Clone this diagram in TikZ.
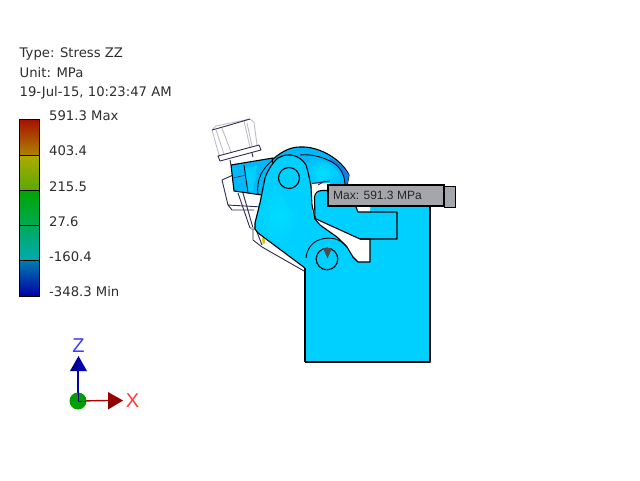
\documentclass[tikz,border=0pt]{standalone}
\usepackage{fontspec}
\setmainfont{DejaVu Sans}
\newfontfamily\labfont{Liberation Sans}
\definecolor{cy}{RGB}{0,208,255}
\definecolor{cyb}{RGB}{0,226,255}
\definecolor{capb}{RGB}{20,125,235}
\definecolor{capc}{RGB}{0,185,252}
\definecolor{tabb}{RGB}{0,185,250}
\definecolor{wire}{RGB}{50,45,80}
\definecolor{gw}{RGB}{190,190,200}
\definecolor{lab}{RGB}{165,165,172}
\definecolor{txt}{RGB}{45,45,45}
\tikzset{
 lbl/.style={inner sep=0pt,anchor=base west,font=\fontsize{13.2}{15}\selectfont,text=txt},
 outl/.style={draw=black,line width=1.1pt,line join=round},
 wr/.style={draw=wire,line width=0.9pt,line join=round},
 gr/.style={draw=gw,line width=0.9pt,line join=round},
 tick/.style={draw=black,line width=0.7pt}
}
\begin{document}
\begin{tikzpicture}[x=1pt,y=-1pt]
\useasboundingbox (0,0) rectangle (640,480);
\fill[white] (0,0) rectangle (640,480);
% header
\node[lbl] (t1) at (19.5,57) {Type: Stress ZZ};
\node[lbl] (t2) at (19.5,77) {Unit: MPa};
\node[lbl] (t3) at (19.5,96) {19-Jul-15, 10:23:47 AM};
% colour bar
\shade[top color={rgb,255:red,165;green,15;blue,0},bottom color={rgb,255:red,175;green,130;blue,0}] (19,119) rectangle (39,155);
\shade[top color={rgb,255:red,175;green,170;blue,0},bottom color={rgb,255:red,90;green,170;blue,0}] (19,155) rectangle (39,190);
\shade[top color={rgb,255:red,0;green,165;blue,0},bottom color={rgb,255:red,0;green,170;blue,80}] (19,190) rectangle (39,225);
\shade[top color={rgb,255:red,0;green,170;blue,90},bottom color={rgb,255:red,0;green,170;blue,175}] (19,225) rectangle (39,260.5);
\shade[top color={rgb,255:red,0;green,125;blue,175},bottom color={rgb,255:red,0;green,0;blue,165}] (19,260.5) rectangle (39,296);
\draw[tick] (19,119) rectangle (39,296);
\foreach \y in {155,190,225,260.5} \draw[tick] (19,\y) -- (39,\y);
\node[lbl] (v1) at (49,120) {591.3 Max};
\node[lbl] (v2) at (49,155.5) {403.4};
\node[lbl] (v3) at (49,191) {215.5};
\node[lbl] (v4) at (49,226) {27.6};
\node[lbl] (v5) at (49,261) {-160.4};
\node[lbl] (v6) at (49,296) {-348.3 Min};
% bolt
\draw[gr] (212,130) -- (216,126) (216,126) -- (250,119) -- (254,122) -- (257,145);
\draw[gr] (212,130) -- (219,155);
\draw[gr] (216,130) -- (224,154) (222,128) -- (231,152) (244,121) -- (250,147) (247,123) -- (252,146);
\draw[wr] (212,130) -- (228,125.5) -- (250,119);
\draw[wr] (218,156) -- (259,145) -- (261,150) -- (220,161) -- cycle;
\draw[wr] (230,160) -- (231,165) (252,153) -- (253,157);
% wire frame behind
\draw[wr] (233,175) -- (222,180) -- (228,205) -- (262,207);
\draw[wr] (228,205) -- (232,210) -- (254,210);
\draw[wr] (238,193) -- (250,228) -- (256,228);
\draw[wr] (243,193) -- (253,228);
\fill[gw] (251,227) rectangle (256,230);
% tab
\path[fill=tabb,outl] (231,165) -- (273,158) -- (275,190) -- (262,195) -- (234,191) -- cycle;
\fill[cy] (245,168) -- (257,166) -- (253,191) -- (249,191) -- cycle;
\draw[outl,line width=0.8pt] (244,165) -- (248,193);
\draw[outl,line width=0.8pt] (258,195) .. controls (256,180) and (262,167) .. (276,158);
\draw[wire!60!red,line width=0.7pt] (233,178) -- (246,175);
% cap
\path[fill=capc,outl]
 (272,160) .. controls (283,150) and (292,147) .. (300,147)
 .. controls (320,146) and (342,160) .. (349,175) -- (347,186) -- (315,200) -- (280,180) -- cycle;
\fill[capb] (330,158) .. controls (340,163) and (346,170) .. (349,175) -- (347,186) -- (345,184) .. controls (345,173) and (338,165) .. (330,161) -- cycle;
\shade[inner color=cyb,outer color=capc] (300,156) .. controls (315,155) and (340,165) .. (345,184) -- (330,190) -- (305,190) -- cycle;
\draw[outl,line width=0.9pt] (300,155) .. controls (310,154) and (320,156) .. (330,161) .. controls (338,165) and (344,171) .. (345,184);
% main body (block + lever)
\path[fill=cy]
 (305,362) -- (430,362) -- (430,207) -- (328,207) -- (328,186) -- (311,187)
 .. controls (309,175) and (307,168) .. (306,165)
 .. controls (300,155) and (288,152) .. (278,158)
 .. controls (272,163) and (267,172) .. (265,178)
 -- (260,203) -- (255,223) -- (255,229) -- (258,233) -- (305,268) -- cycle;
\shade[inner color=cyb,outer color=cy,opacity=.7] (258,205) -- (275,185) -- (300,225) -- (285,245) -- (258,232) -- cycle;
% white slots
\fill[white] (356,207) -- (370,207) -- (370,212) -- (358,212) -- cycle;
\fill[white] (315,219) -- (360,239) -- (370,239) -- (370,262) -- (358,262) -- (353,257) -- (347,247) -- (337,237) -- (320,225) -- cycle;
\fill[white] (311.5,187) -- (312,184) -- (330,183) -- (330,190) -- (320,190) -- (315,196) -- (314.5,218) -- (312.5,212) -- cycle;
% outlines
\draw[outl] (305,362) -- (430,362) -- (430,207);
\draw[outl] (305,362) -- (305,268);
\draw[outl] (370,212) -- (397,212) -- (397,239) -- (360,239) -- (315,218.5) -- (314.5,197) .. controls (315,193) and (318,190.5) .. (322,190.5) -- (328,190.5);
\draw[outl] (356,207) -- (358,212) -- (370,212);
\draw[outl] (360,239) -- (370,239) -- (370,262) -- (358,262) -- (353,257) -- (347,247) -- (337,237) -- (320,225) -- (315,219);
\draw[wr] (253,229) -- (253,240) -- (262,247) -- (304,271);
\draw[wr] (257,232) -- (262,245);
\fill[yellow!60!olive] (262,237.5) -- (264.5,237.5) -- (265,243.5) -- (262.5,243.5) -- cycle;
\draw[outl] (305,268) -- (258,233) -- (255,229) -- (255,223) -- (260,203) -- (265,178)
 .. controls (267,172) and (272,163) .. (278,158)
 .. controls (288,152) and (300,155) .. (306,165)
 .. controls (307,168) and (309,175) .. (311,187) -- (312,205) -- (315,219);
\draw[outl,line width=0.9pt] (306,258) .. controls (307,248) and (313,241) .. (322,239) .. controls (330,237) and (340,238) .. (347,247);
\draw[wr] (312,183.5) -- (330,181) (318,185) -- (325,181);
% pivots
\coordinate (pa) at (289,178);
\coordinate (pb) at (327,259);
\draw[outl] (pa) circle (10.5);
\draw[outl,line width=1.2pt,dash pattern=on 3pt off .5pt] (pb) circle (10.8);
\fill[black!70] (323,248) -- (332,248) -- (327.5,258.5) -- cycle;
% max label
\path[fill=lab,draw=black,line width=1pt] (444,186) rectangle (455,207);
\node[fill=lab,draw=black,line width=1.2pt,minimum width=116pt,minimum height=21pt,inner sep=0pt,outer sep=0pt] (mx) at (386,195.5) {};
\node[inner sep=0pt,anchor=west,font=\labfont\fontsize{12}{14}\selectfont,text=black!85] (mxt) at (333,195.5) {Max: 591.3 MPa};
% triad
\coordinate (o) at (78,401);
\coordinate (zb) at (78,371);
\coordinate (xb) at (108,400.5);
\draw[blue!70!black,line width=1.4pt] (o) -- (zb);
\draw[red!70!black,line width=1.4pt] (o) -- (xb);
\shade[left color={rgb,255:red,0;green,0;blue,110},right color={rgb,255:red,0;green,0;blue,190},middle color={rgb,255:red,0;green,0;blue,170}] (70,371) -- (87,371) -- (78.5,356) -- cycle;
\shade[top color={rgb,255:red,170;green,0;blue,0},bottom color={rgb,255:red,120;green,0;blue,0}] (108,392) -- (108,409.5) -- (123,400.5) -- cycle;
\fill[green!62!black] (o) circle (8.5);
\draw[blue!60!black,line width=.6pt] (o) -- (78,392);
\draw[red!60!black,line width=.6pt] (o) -- (86,401);
\node[inner sep=0pt,font=\labfont\fontsize{20}{22}\selectfont,text={rgb,255:red,60;green,60;blue,255}] (zl) at (78.5,346) {Z};
\node[inner sep=0pt,font=\labfont\fontsize{20}{22}\selectfont,text={rgb,255:red,255;green,60;blue,60}] (xl) at (132.5,401) {X};
\end{tikzpicture}
\end{document}
